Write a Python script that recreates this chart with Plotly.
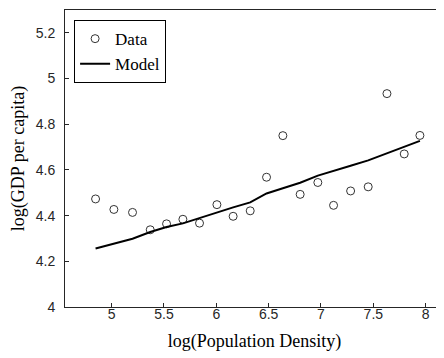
import plotly.graph_objects as go

pop_density = [4.847, 5.022, 5.200, 5.369, 5.525, 5.681, 5.840, 6.006, 6.161, 6.324,
               6.480, 6.636, 6.801, 6.970, 7.120, 7.283, 7.451, 7.630, 7.795, 7.945]
gdp_data = [4.473, 4.427, 4.414, 4.338, 4.364, 4.384, 4.367, 4.448, 4.397, 4.421,
            4.568, 4.750, 4.493, 4.545, 4.445, 4.508, 4.526, 4.934, 4.670, 4.751]
gdp_model = [4.256, 4.278, 4.299, 4.328, 4.350, 4.366, 4.390, 4.413, 4.436, 4.458,
             4.497, 4.520, 4.544, 4.575, 4.594, 4.618, 4.642, 4.672, 4.700, 4.727]
x_ticks = [5, 5.5, 6, 6.5, 7, 7.5, 8]
y_ticks = [4, 4.2, 4.4, 4.6, 4.8, 5, 5.2]

axc = "#262626"
serif = "Liberation Serif, Times New Roman, serif"
sans = "Liberation Sans, Arial, sans-serif"

fig = go.Figure()
fig.add_trace(go.Scatter(x=pop_density, y=gdp_data, mode="markers", name="Data",
                         marker=dict(symbol="circle-open", size=8, color="#333333",
                                     line=dict(width=1, color="#333333"))))
fig.add_trace(go.Scatter(x=pop_density, y=gdp_model, mode="lines", name="Model",
                         line=dict(color="black", width=2)))

# page body has an 8px default margin, so the figure is sized/shifted to compensate
fig.update_layout(
    width=436, height=350,
    margin=dict(l=57, r=0, t=2, b=51, autoexpand=False),
    plot_bgcolor="white", paper_bgcolor="white",
    showlegend=True,
    legend=dict(x=0.024, y=0.966, xanchor="left", yanchor="top",
                bordercolor="black", borderwidth=1, bgcolor="white",
                font=dict(family=serif, size=17, color="black"),
                itemwidth=30, tracegroupgap=0),
    xaxis=dict(range=[4.555, 8.175], tickvals=x_ticks, ticktext=[str(v) for v in x_ticks],
               automargin=False,
               showline=True, linecolor=axc, linewidth=1, mirror=True,
               ticks="inside", ticklen=4, tickcolor=axc, showgrid=False, zeroline=False,
               tickfont=dict(family=sans, size=14, color=axc), ticklabelstandoff=-6,
               title=dict(text="log(Population Density)", font=dict(family=serif, size=18, color="black"),
                          standoff=13)),
    yaxis=dict(range=[4, 5.3], tickvals=y_ticks, ticktext=[("%g" % v) for v in y_ticks],
               automargin=False,
               showline=True, linecolor=axc, linewidth=1, mirror=False,
               ticks="inside", ticklen=4, tickcolor=axc, showgrid=False, zeroline=False,
               tickfont=dict(family=sans, size=14, color=axc), ticklabelstandoff=6,
               title=dict(text="log(GDP per capita)", font=dict(family=serif, size=18, color="black"),
                          standoff=8)),
)

fig.write_html("out.html")
